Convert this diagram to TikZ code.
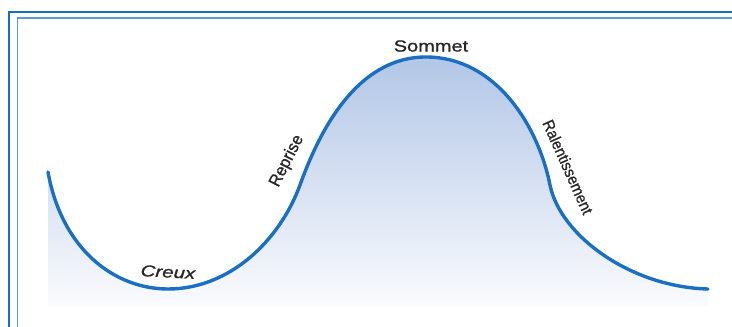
\documentclass[tikz,border=0pt]{standalone}
\usepackage{fontspec}
\setmainfont{Liberation Sans}
\newfontfamily\lblfont[FakeBold=0.9]{Liberation Sans}
\definecolor{curveblue}{HTML}{1A6FC2}
\definecolor{frameblue}{HTML}{1470C0}
\definecolor{frameblue2}{HTML}{5A9AD6}
\definecolor{filltop}{HTML}{B2C6E6}
\definecolor{fillbot}{HTML}{FAFBFD}
\definecolor{txt}{HTML}{262626}
\begin{document}
\begin{tikzpicture}[x=1pt,y=-1pt,
  lbl/.style={text=txt, inner sep=0pt},
  curve/.style={draw=curveblue, line width=3.4pt, line cap=round},
  outerframe/.style={draw=frameblue, line width=2pt},
  innerframe/.style={draw=frameblue2, line width=1.6pt}]
\useasboundingbox (0,0) rectangle (732,327);
\fill[white] (0,0) rectangle (732,327);
% curve key points
\coordinate (start) at (48,172);
\coordinate (trough) at (168,289);
\coordinate (rise) at (300,185);
\coordinate (peak) at (426,57);
\coordinate (fall) at (550,185);
\coordinate (finish) at (708,289);
\coordinate (bl) at (48,306);
\coordinate (br) at (708,306);
% filled area
\shade[top color=filltop, bottom color=fillbot]
  (bl) -- (start)
  .. controls (62,250) and (115,289) .. (trough)
  .. controls (230,289) and (280,240) .. (rise)
  .. controls (318,135) and (355,57) .. (peak)
  .. controls (495,57) and (538,125) .. (fall)
  .. controls (560,235) and (630,287) .. (finish)
  -- (br) -- cycle;
% curve
\draw[curve] (start)
  .. controls (62,250) and (115,289) .. (trough)
  .. controls (230,289) and (280,240) .. (rise)
  .. controls (318,135) and (355,57) .. (peak)
  .. controls (495,57) and (538,125) .. (fall)
  .. controls (560,235) and (630,287) .. (finish);
% frame
\coordinate (o1) at (9,330);
\coordinate (o2) at (9,11.5);
\coordinate (o3) at (735,11.5);
\coordinate (i1) at (17.5,330);
\coordinate (i2) at (17.5,18);
\coordinate (i3) at (735,18);
\draw[outerframe] (o1) -- (o2) -- (o3);
\draw[innerframe] (i1) -- (i2) -- (i3);
% labels
\node[lbl, font=\lblfont\fontsize{16}{16}\selectfont] (sommet) at (431,46) {\scalebox{1.25}[1]{Sommet}};
\node[lbl, font=\lblfont\fontsize{16}{16}\selectfont\itshape, rotate=-3] (creux) at (168,272) {\scalebox{1.28}[1]{Creux}};
\node[lbl, font=\lblfont\fontsize{17}{17}\selectfont, rotate=63] (reprise) at (287,161) {\scalebox{0.95}[1]{Reprise}};
\node[lbl, font=\lblfont\fontsize{16}{16}\selectfont, rotate=-66] (ralent) at (568,167) {\scalebox{0.92}[1]{Ralentissement}};
\end{tikzpicture}
\end{document}
